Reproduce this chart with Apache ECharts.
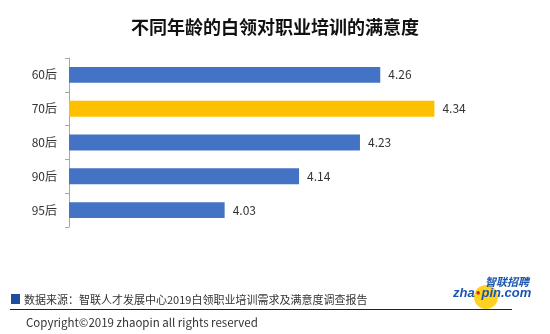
<!DOCTYPE html>
<html><head><meta charset="utf-8">
<script src="https://cdn.jsdelivr.net/npm/echarts@6/dist/echarts.min.js"></script>
<style>html,body{margin:0;padding:0;background:#fff}#c{width:550px;height:334px}</style>
</head><body><div id="c"></div>
<script>
const categories = ['60后','70后','80后','90后','95后'];
const values = [4.26, 4.34, 4.23, 4.14, 4.03];
const highlight = '70后';
const titleText = '不同年龄的白领对职业培训的满意度';
const sourceText = '数据来源：智联人才发展中心2019白领职业培训需求及满意度调查报告';
const copyrightText = 'Copyright©2019 zhaopin all rights reserved';

const FONT = '"Noto Sans CJK SC", "Microsoft YaHei", sans-serif';
const chart = echarts.init(document.getElementById('c'), null, {renderer:'canvas'});
chart.setOption({
  animation:false,
  backgroundColor:'#fff',
  title:{text:titleText,left:'center',top:13,textStyle:{fontFamily:FONT,fontSize:18,fontWeight:'bold',color:'#111'}},
  grid:{left:69,right:75,top:58,bottom:107,containLabel:false},
  xAxis:{type:'value',min:3.8,max:4.4,show:false},
  yAxis:{type:'category',inverse:true,data:categories,
    axisLine:{show:true,lineStyle:{color:'#a6a6a6',width:1}},
    axisTick:{show:true,length:4,lineStyle:{color:'#a6a6a6'}},
    axisLabel:{margin:12,fontFamily:FONT,fontSize:12,color:'#333'}},
  series:[{type:'bar',barWidth:'47%',
    data:values.map((v,i)=>({value:v,itemStyle:{color:categories[i]===highlight?'#FFC000':'#4472C4'}})),
    label:{show:true,position:'right',distance:8,fontFamily:FONT,fontSize:12,color:'#333',formatter:p=>p.value.toFixed(2)}}],
  graphic:[
    {type:'rect',shape:{x:11,y:294,width:9,height:10},style:{fill:'#1F4E9C'}},
    {type:'text',x:24,y:300,style:{text:sourceText,font:'11px '+FONT,fill:'#333',textVerticalAlign:'middle'}},
    {type:'line',shape:{x1:10,y1:309.5,x2:512,y2:309.5},style:{stroke:'#222',lineWidth:1}},
    {type:'text',x:26,y:323,style:{text:copyrightText,font:'11.5px '+FONT,fill:'#333',textVerticalAlign:'middle'}},
    {type:'circle',shape:{cx:486,cy:297,r:12},style:{fill:'#FFD21F'},z:1},
    {type:'text',x:453,y:293,z:2,style:{text:'{a|zha}{b|●}{a|pin.com}',textVerticalAlign:'middle',
      rich:{a:{font:'italic bold 13px Arial, sans-serif',fill:'#1A56B0',color:'#1A56B0'},
            b:{font:'bold 8px Arial, sans-serif',color:'#E02020',fill:'#E02020',padding:[0,1,0,1]}}}},
    {type:'text',x:485,y:282,z:2,style:{text:'智联招聘',font:'italic bold 11px '+FONT,fill:'#1A56B0',textVerticalAlign:'middle'}}
  ]
});
</script></body></html>
